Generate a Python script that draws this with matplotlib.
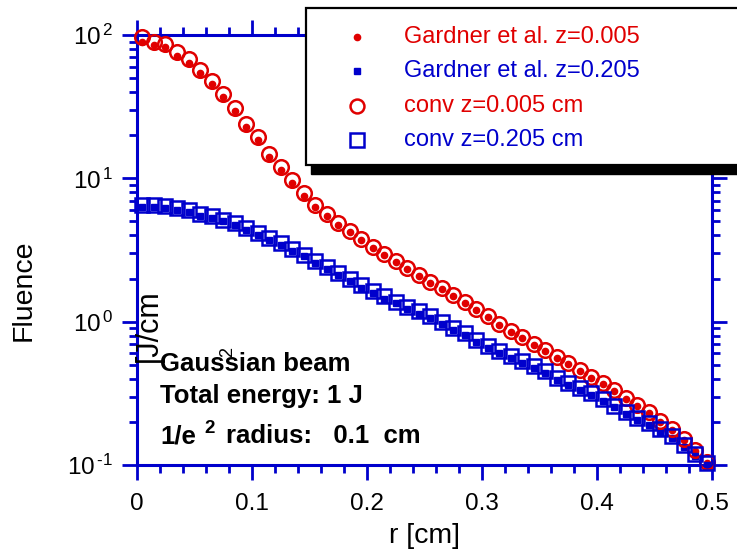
import matplotlib
matplotlib.use("Agg")
import matplotlib.pyplot as plt
from matplotlib.lines import Line2D
from matplotlib.patches import Rectangle
from matplotlib.ticker import FixedLocator, MultipleLocator, LogLocator, NullFormatter

plt.rcParams['font.family'] = ['Liberation Sans', 'DejaVu Sans']
plt.rcParams['mathtext.fontset'] = 'custom'
plt.rcParams['mathtext.rm'] = 'Liberation Sans'
plt.rcParams['mathtext.it'] = 'Liberation Sans:italic'
plt.rcParams['mathtext.bf'] = 'Liberation Sans:bold'
plt.rcParams['mathtext.default'] = 'regular'

# ---------------- data ----------------
r = [0.005, 0.015, 0.025, 0.035, 0.045, 0.055, 0.065, 0.075, 0.085, 0.095,
     0.105, 0.115, 0.125, 0.135, 0.145, 0.155, 0.165, 0.175, 0.185, 0.195,
     0.205, 0.215, 0.225, 0.235, 0.245, 0.255, 0.265, 0.275, 0.285, 0.295,
     0.305, 0.315, 0.325, 0.335, 0.345, 0.355, 0.365, 0.375, 0.385, 0.395,
     0.405, 0.415, 0.425, 0.435, 0.445, 0.455, 0.465, 0.475, 0.485, 0.495]

conv_z0005 = [96.4, 89.8, 86.1, 75.7, 67.7, 57.0, 48.0, 38.8, 31.1, 23.8,
              19.4, 14.9, 12.05, 9.73, 7.86, 6.51, 5.61, 4.88, 4.29, 3.80,
              3.34, 2.96, 2.65, 2.37, 2.11, 1.90, 1.71, 1.53, 1.37, 1.22,
              1.09, 0.970, 0.864, 0.785, 0.698, 0.633, 0.566, 0.512, 0.459, 0.413,
              0.371, 0.333, 0.293, 0.262, 0.235, 0.204, 0.179, 0.152, 0.127, 0.105]

gardner_z0005 = [90.0, 85.1, 82.0, 71.7, 63.5, 54.0, 45.3, 37.1, 29.5, 22.7,
                 18.5, 14.2, 11.5, 9.27, 7.49, 6.31, 5.43, 4.72, 4.22, 3.74,
                 3.29, 2.92, 2.62, 2.34, 2.08, 1.87, 1.69, 1.51, 1.35, 1.20,
                 1.07, 0.955, 0.850, 0.773, 0.686, 0.624, 0.557, 0.504, 0.452, 0.406,
                 0.365, 0.328, 0.288, 0.258, 0.231, 0.201, 0.176, 0.150, 0.125, 0.103]

conv_z0205 = [6.51, 6.51, 6.46, 6.20, 6.01, 5.68, 5.46, 5.16, 4.88, 4.50,
              4.15, 3.83, 3.54, 3.21, 2.94, 2.67, 2.42, 2.18, 1.97, 1.79,
              1.64, 1.50, 1.38, 1.27, 1.18, 1.09, 1.00, 0.910, 0.833, 0.750,
              0.676, 0.623, 0.575, 0.535, 0.494, 0.452, 0.407, 0.376, 0.347, 0.320,
              0.288, 0.260, 0.236, 0.214, 0.196, 0.177, 0.159, 0.138, 0.119, 0.103]

gardner_z0205 = [6.30, 6.30, 6.25, 6.00, 5.82, 5.50, 5.29, 5.00, 4.72, 4.36,
                 4.02, 3.71, 3.43, 3.11, 2.85, 2.58, 2.34, 2.11, 1.91, 1.73,
                 1.59, 1.45, 1.34, 1.23, 1.14, 1.06, 0.97, 0.88, 0.806, 0.726,
                 0.654, 0.603, 0.557, 0.518, 0.478, 0.438, 0.394, 0.364, 0.336, 0.310,
                 0.279, 0.252, 0.228, 0.207, 0.190, 0.171, 0.154, 0.134, 0.115, 0.100]

labels = ["Gardner et al. z=0.005", "Gardner et al. z=0.205",
          "conv z=0.005 cm", "conv z=0.205 cm"]
xticks = [0, 0.1, 0.2, 0.3, 0.4, 0.5]
xticklabels = ["0", "0.1", "0.2", "0.3", "0.4", "0.5"]
yticks = [0.1, 1, 10, 100]
yticklabels = [r"$10^{\,\text{-1}}$", r"$10^{\,0}$", r"$10^{\,1}$", r"$10^{\,2}$"]

RED = '#e00000'
BLUE = '#0000cc'
W, H = 737, 555

def fx(px):
    return px / W

def fy(py):
    return 1 - py / H

fig = plt.figure(figsize=(W / 100, H / 100), dpi=100)
ax = fig.add_axes([fx(136.7), fy(465), (712.3 - 136.7) / W, 430 / H])

ax.plot(r, gardner_z0005, ls='none', marker='o', ms=4.5, color=RED, mec=RED, clip_on=False, zorder=3)
ax.plot(r, gardner_z0205, ls='none', marker='s', ms=4.0, color=BLUE, mec=BLUE, clip_on=False, zorder=3)
ax.plot(r, conv_z0005, ls='none', marker='o', ms=10.5, mfc='none', mec=RED, mew=1.8, clip_on=False, zorder=4)
ax.plot(r, conv_z0205, ls='none', marker='s', ms=10.0, mfc='none', mec=BLUE, mew=1.8, clip_on=False, zorder=4)

ax.set_xlim(0, 0.5)
ax.set_yscale('log')
ax.set_ylim(0.1, 100)
ax.xaxis.set_major_locator(FixedLocator(xticks))
ax.set_xticklabels(xticklabels)
ax.xaxis.set_minor_locator(MultipleLocator(0.02))
ax.yaxis.set_major_locator(FixedLocator(yticks))
ax.set_yticklabels(yticklabels)
ax.yaxis.set_minor_locator(LogLocator(base=10, subs=range(2, 10)))
ax.yaxis.set_minor_formatter(NullFormatter())

for s in ax.spines.values():
    s.set_color(BLUE)
    s.set_linewidth(2.2)
ax.tick_params(which='both', direction='out', top=True, right=True, color=BLUE,
               width=2.0, labelcolor='black', labelsize=17.5)
ax.tick_params(which='major', length=11)
ax.tick_params(which='minor', length=5.5)
ax.tick_params(axis='x', which='major', pad=9)
ax.tick_params(axis='y', which='major', pad=6)

ax.set_xlabel('r [cm]', fontsize=20.5)
ax.xaxis.set_label_coords((425 - 136.7) / 575.6, -(536 - 465) / 430)
ax.xaxis.label.set_va('center')
ax.set_ylabel('Fluence', fontsize=20.5)
ax.yaxis.set_label_coords((24 - 136.7) / 575.6, (465 - 290) / 430)
ax.yaxis.label.set_va('center')
ax.yaxis.label.set_ha('center')

# stray unit label from the original
fig.text(fx(149), fy(326), '[J/cm', rotation=90, fontsize=22, ha='center', va='center')
fig.text(fx(228), fy(352), '2', rotation=90, fontsize=13, ha='center', va='center')

# annotation text
fig.text(fx(160), fy(371), 'Gaussian beam', fontsize=18.5, fontweight='bold', ha='left', va='baseline')
fig.text(fx(160), fy(403), 'Total energy: 1 J', fontsize=18.5, fontweight='bold', ha='left', va='baseline')
fig.text(fx(160), fy(443), '1/e', fontsize=18.5, fontweight='bold', ha='left', va='baseline')
fig.text(fx(204), fy(433), '2', fontsize=13.5, fontweight='bold', ha='left', va='baseline')
fig.text(fx(226), fy(443), 'radius:   0.1  cm', fontsize=18.5, fontweight='bold', ha='left', va='baseline')

# legend box (drawn manually to reproduce the boxed, shadowed legend)
fig.add_artist(Rectangle((fx(311), fy(174)), fx(745) - fx(311), fy(17) - fy(174),
                         transform=fig.transFigure, facecolor='black', edgecolor='black', zorder=10))
fig.add_artist(Rectangle((fx(306), fy(165)), fx(745) - fx(306), fy(8) - fy(165),
                         transform=fig.transFigure, facecolor='white', edgecolor='black', lw=1.6, zorder=11))
leg_y = [37, 71, 106, 140]
leg_style = [dict(marker='o', ms=4.5, color=RED, mec=RED),
             dict(marker='s', ms=4.0, color=BLUE, mec=BLUE),
             dict(marker='o', ms=10.0, mfc='none', mec=RED, mew=1.8),
             dict(marker='s', ms=10.0, mfc='none', mec=BLUE, mew=1.8)]
leg_col = [RED, BLUE, RED, BLUE]
for yy, st, lab, col in zip(leg_y, leg_style, labels, leg_col):
    fig.add_artist(Line2D([fx(357)], [fy(yy)], ls='none', transform=fig.transFigure, zorder=12, **st))
    fig.text(fx(404), fy(yy), lab, color=col, fontsize=17, ha='left', va='center', zorder=12)

fig.savefig('out.png', dpi=100)
